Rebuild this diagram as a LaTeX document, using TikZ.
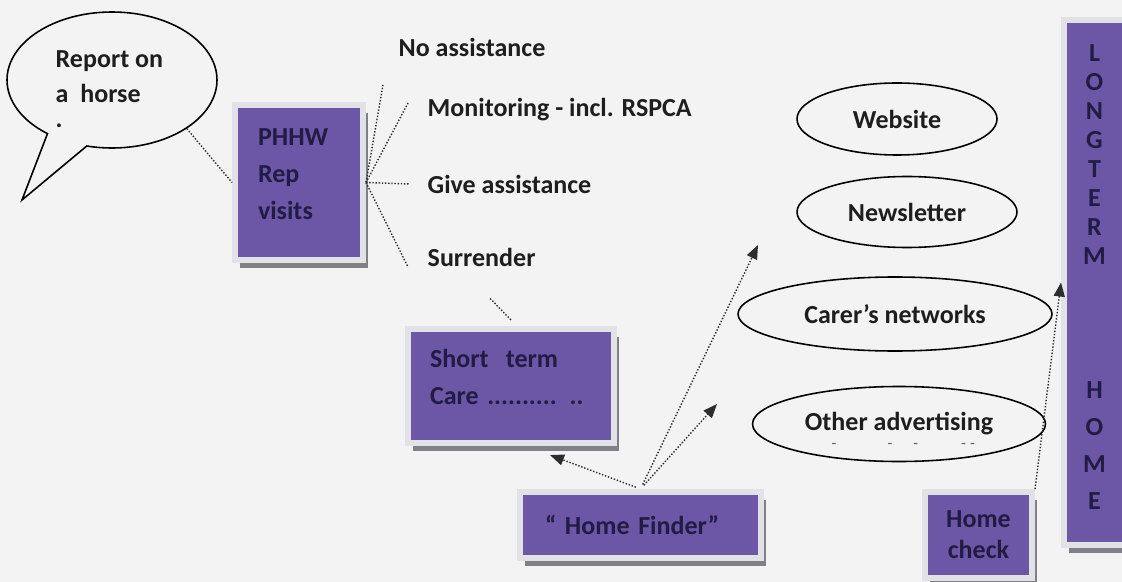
\documentclass[tikz,border=0pt]{standalone}
\usepackage{fontspec}
\setmainfont{Carlito}
\usepackage{xcolor}
\usetikzlibrary{shadows,arrows.meta,shapes,positioning}
\definecolor{pagebg}{RGB}{243,243,243}
\definecolor{boxpurple}{RGB}{108,86,166}
\definecolor{boxtext}{RGB}{34,28,68}
\definecolor{framegrey}{RGB}{226,226,230}
\definecolor{shadowgrey}{RGB}{128,128,134}
\definecolor{labeltext}{RGB}{30,30,30}
\definecolor{linkgrey}{RGB}{45,45,45}
\tikzset{
  boxshadow/.style={
    general shadow={shadow xshift=0.1cm, shadow yshift=-0.16cm, fill=shadowgrey, every shadow}
  }
}
\tikzset{every shadow/.style={}}

\begin{document}
\begin{tikzpicture}[thick, font=\fontsize{14.8pt}{21pt}\selectfont\bfseries,
    purplebox/.style={rectangle, fill=boxpurple, draw=framegrey, line width=0.12cm, text=boxtext, inner sep=0pt, boxshadow},
    oval/.style={draw, ellipse, line width=0.9pt, inner sep=0pt, text=labeltext},
    plain/.style={inner sep=0pt, text=labeltext, anchor=west},
    link/.style={densely dotted, line width=0.8pt, draw=linkgrey},
    pointer/.style={link, -{Triangle[length=0.28cm, width=0.22cm]}, shorten <=0.1cm}]
        % Page and margins
        \fill[pagebg] (0,0) rectangle (22.44,-11.64);
        \useasboundingbox (0,0) rectangle (22.44,-11.64);

        % Speech bubble
        \node[ellipse callout, draw, line width=0.9pt, minimum width=4.2cm, minimum height=2.72cm, callout absolute pointer={(0.44,-4.0)}, callout pointer arc=24] (bubble) at (2.24,-1.6) {};
        \node[plain, anchor=north west, align=left, font=\fontsize{14.8pt}{19.9pt}\selectfont\bfseries] (report) at (1.1,-0.99) {Report on\\a~ horse\\[-0.2cm].};

        % Purple boxes
        \node[purplebox, minimum width=2.56cm, minimum height=3.1cm, text width=1.64cm, align=left, text depth=1.82cm] (phhw) at (5.98,-3.65) {PHHW\\Rep\\visits};
        \node[purplebox, minimum width=4.12cm, minimum height=2.28cm, text width=3.24cm, align=left, text depth=1.12cm] (short) at (10.22,-7.72) {Short~ term\\Care .......... ..};
        \node[purplebox, minimum width=4.82cm, minimum height=1.32cm, text width=3.82cm, align=left] (homefinder) at (12.81,-10.5) {“ Home Finder”};
        \node[purplebox, minimum width=2.14cm, minimum height=1.72cm, align=center, font=\fontsize{14.8pt}{17.6pt}\selectfont\bfseries] (homecheck) at (19.57,-10.7) {Home\\check};
        \node[purplebox, minimum width=1.22cm, minimum height=10.5cm, align=center, text depth=0.22cm, font=\fontsize{14.8pt}{16.5pt}\selectfont\bfseries] (longterm) at (21.89,-5.65) {L\\O\\N\\G\\T\\E\\R\\M\\[2.1cm]H\\[0.16cm]O\\[0.16cm]M\\[0.16cm]E};

        % Visit outcomes
        \node[plain] (noassist) at (7.96,-0.94) {No assistance};
        \node[plain] (monitor) at (8.54,-2.2) {Monitoring - incl. RSPCA};
        \node[plain] (give) at (8.54,-3.68) {Give assistance};
        \node[plain] (surrender) at (8.54,-5.14) {Surrender};

        % Advertising ovals
        \node[oval, minimum width=4.0cm, minimum height=1.44cm] (website) at (17.94,-2.38) {Website};
        \node[oval, minimum width=4.4cm, minimum height=1.42cm] (newsletter) at (18.14,-4.24) {Newsletter};
        \node[oval, minimum width=6.28cm, minimum height=1.48cm] (carers) at (17.9,-6.28) {Carer’s networks};
        \node[oval, minimum width=5.86cm, minimum height=1.5cm] (otherad) at (17.98,-8.48) {Other advertising};
        \node[plain, text=labeltext!70, font=\small] (addash) at (16.62,-8.92) {-\hspace{1.02cm}-\hspace{0.42cm}-\hspace{0.86cm}-\hspace{0.08cm}-};

        % Free arrow ends
        \coordinate (nltip) at (15.16,-4.9);
        \coordinate (adtip) at (14.34,-8.08);

        % Dotted links
        \draw[link] (bubble.south east) -- (phhw.west);
        \draw[link] (phhw.east) -- ([shift={(-0.3,-0.76)}]noassist.west);
        \draw[link] (phhw.east) -- ([shift={(-0.38,0.14)}]monitor.west);
        \draw[link] (phhw.east) -- ([xshift=-0.34cm]give.west);
        \draw[link] (phhw.east) -- ([shift={(-0.38,-0.2)}]surrender.west);
        \draw[link] ([shift={(0.17,-0.63)}]surrender.south) -- ([yshift=0.12cm]short.north);

        % Arrows
        \draw[pointer] (homefinder.north) -- ([shift={(0.78,-0.18)}]short.south);
        \draw[pointer] (homefinder.north) -- (adtip);
        \draw[pointer] (homefinder.north) -- (nltip);
        \draw[pointer, shorten <=0pt] (homecheck.north east) -- (longterm.west);
    \end{tikzpicture}
\end{document}
